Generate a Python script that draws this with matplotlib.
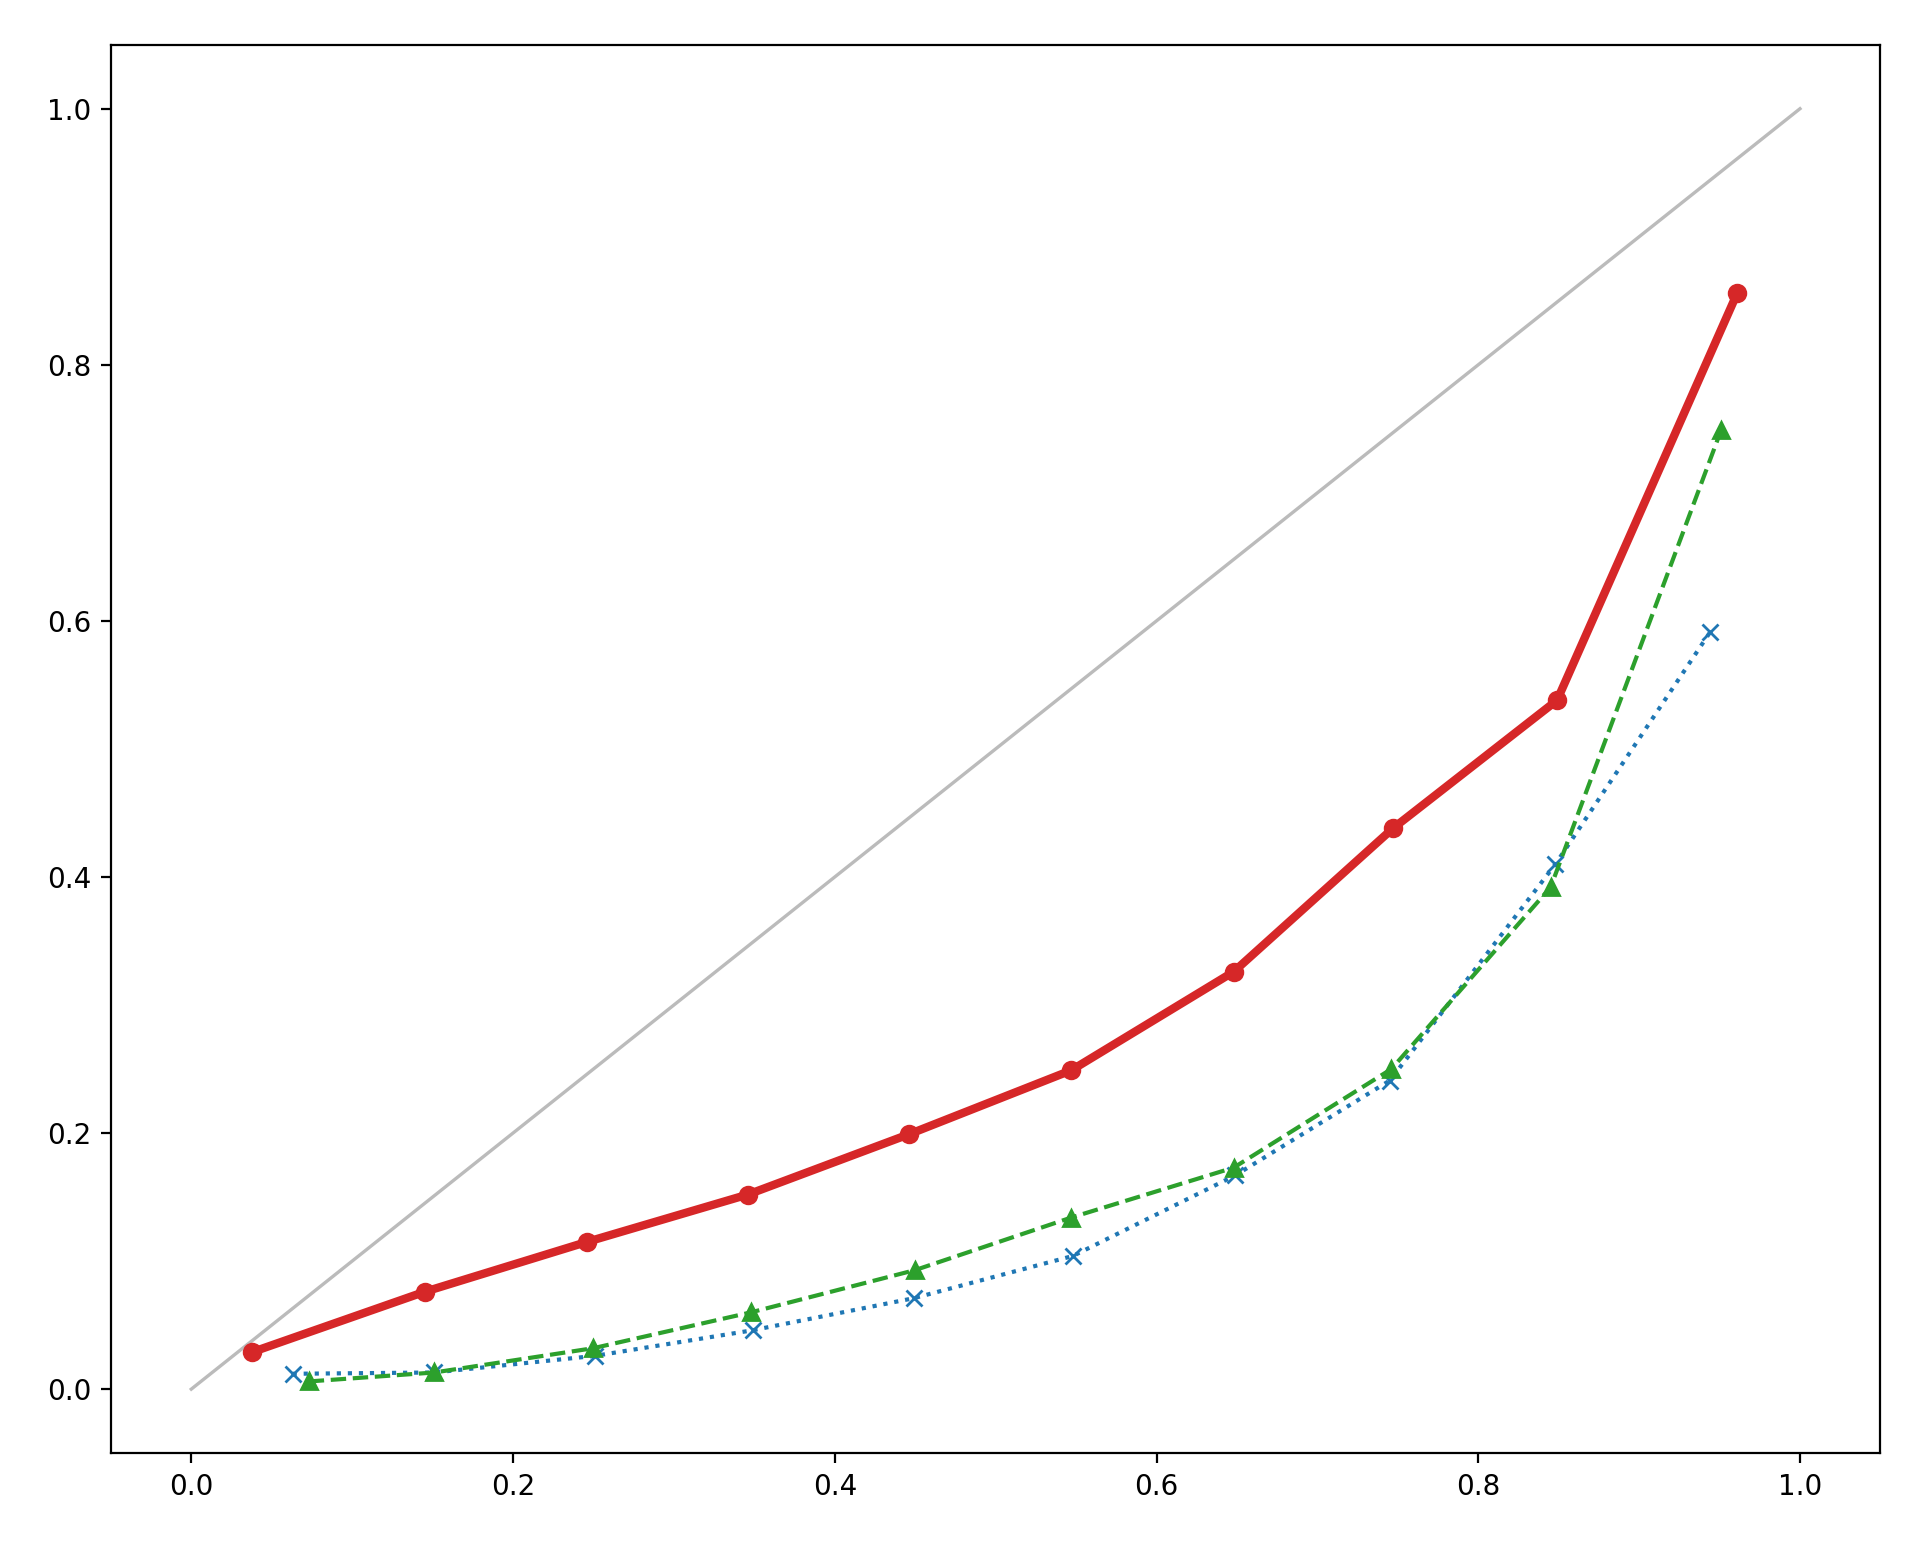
import matplotlib
matplotlib.use("Agg")
import matplotlib.pyplot as plt

# red (thick, circles)
red_x = [0.038, 0.145, 0.246, 0.346, 0.446, 0.547, 0.648, 0.747, 0.849, 0.961]
red_y = [0.029, 0.076, 0.115, 0.152, 0.199, 0.249, 0.326, 0.438, 0.538, 0.856]

# green (dashed, triangles)
green_x = [0.073, 0.151, 0.250, 0.348, 0.450, 0.547, 0.648, 0.746, 0.845, 0.951]
green_y = [0.006, 0.013, 0.032, 0.060, 0.093, 0.134, 0.173, 0.250, 0.392, 0.749]

# blue (dotted, crosses)
blue_x = [0.063, 0.151, 0.251, 0.349, 0.449, 0.548, 0.649, 0.745, 0.848, 0.944]
blue_y = [0.012, 0.013, 0.026, 0.046, 0.071, 0.104, 0.167, 0.241, 0.410, 0.591]

fig = plt.figure(figsize=(9.555, 7.705), dpi=200)
ax = fig.add_axes([0.058, 0.057, 0.926, 0.914])

ax.plot([0, 1], [0, 1], color="#bbbbbb", lw=1.2)
ax.plot(blue_x, blue_y, ":", color="tab:blue", marker="x", lw=1.5)
ax.plot(green_x, green_y, "--", color="tab:green", marker="^", lw=1.5)
ax.plot(red_x, red_y, "-", color="tab:red", marker="o", lw=3)

ax.set_xlim(-0.05, 1.05)
ax.set_ylim(-0.05, 1.05)

fig.savefig("out.png")
